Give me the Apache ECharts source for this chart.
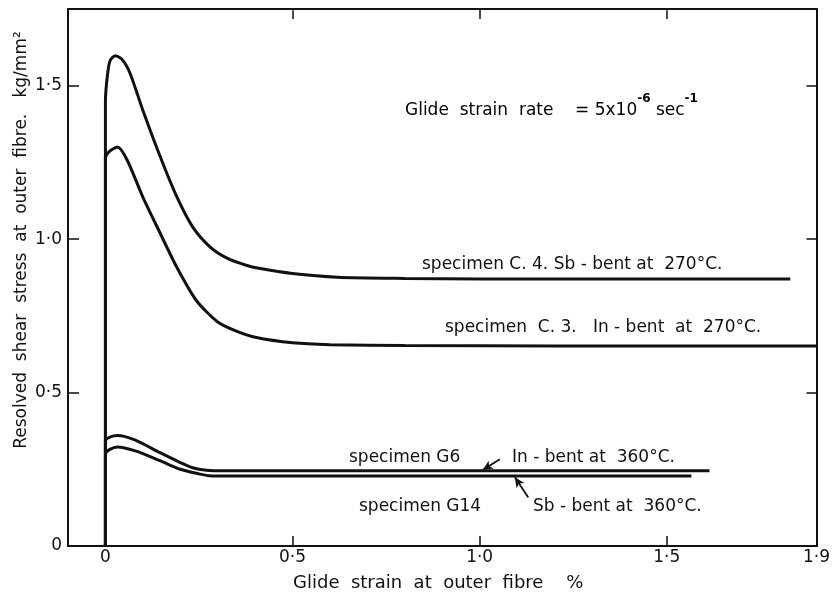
<!DOCTYPE html>
<html>
<head>
<meta charset="utf-8">
<script src="https://cdn.jsdelivr.net/npm/echarts@6/dist/echarts.min.js"></script>
<style>
html,body{margin:0;padding:0;background:#fff;}
#chart{width:833px;height:594px;}
</style>
</head>
<body>
<div id="chart"></div>
<script>
// Tick values and labels
const xTickValues = [0, 0.5, 1.0, 1.5];
const xLabelValues = [0, 0.5, 1.0, 1.5, 1.9];
const xLabelText = {'0':'0','0.5':'0·5','1':'1·0','1.5':'1·5','1.9':'1·9'};
const yTickValues = [0.5, 1.0, 1.5];
const yLabelValues = [0, 0.5, 1.0, 1.5];
const yLabelText = {'0':'0','0.5':'0·5','1':'1·0','1.5':'1·5'};

// Specimen C.4 Sb-bent at 270°C
const c4X = [0, 0, 0.005, 0.012, 0.026, 0.045, 0.066, 0.1, 0.146, 0.19, 0.233, 0.28, 0.325, 0.376, 0.41, 0.5, 0.62, 0.8, 1.0, 1.4, 1.83];
const c4Y = [0, 1.45, 1.53, 1.58, 1.598, 1.585, 1.54, 1.42, 1.27, 1.14, 1.04, 0.974, 0.938, 0.915, 0.905, 0.888, 0.876, 0.872, 0.87, 0.87, 0.87];
// Specimen C.3 In-bent at 270°C
const c3X = [0, 0, 0.01, 0.032, 0.058, 0.1, 0.146, 0.19, 0.243, 0.3, 0.35, 0.4, 0.5, 0.6, 0.8, 1.2, 1.9];
const c3Y = [0, 1.265, 1.285, 1.30, 1.258, 1.137, 1.02, 0.91, 0.80, 0.73, 0.70, 0.68, 0.662, 0.656, 0.653, 0.652, 0.652];
// Specimen G6 In-bent at 360°C
const g6X = [0, 0, 0.012, 0.032, 0.08, 0.146, 0.2, 0.233, 0.27, 0.32, 0.5, 1.0, 1.614];
const g6Y = [0, 0.343, 0.355, 0.36, 0.345, 0.304, 0.272, 0.255, 0.247, 0.245, 0.245, 0.245, 0.245];
// Specimen G14 Sb-bent at 360°C
const g14X = [0, 0, 0.012, 0.032, 0.08, 0.146, 0.2, 0.25, 0.278, 0.33, 0.5, 1.0, 1.566];
const g14Y = [0, 0.30, 0.315, 0.323, 0.31, 0.278, 0.25, 0.235, 0.229, 0.228, 0.228, 0.228, 0.228];

const FONT = 'DejaVu Sans';
const INK = '#111';
const zip = (xs, ys) => xs.map((x, i) => [x, ys[i]]);

const chart = echarts.init(document.getElementById('chart'), null, {renderer:'canvas'});

function lineSeries(name, xs, ys, extra) {
  return Object.assign({
    name, type:'line', data: zip(xs, ys), showSymbol:false, smooth:0.25,
    lineStyle:{color:INK, width:3}, xAxisIndex:0, yAxisIndex:0, silent:true, z:3
  }, extra || {});
}
function arrowLine(from, to) {
  return {
    silent:true, symbol:['none','arrow'], symbolSize:[7,10],
    lineStyle:{color:INK, width:1.8, type:'solid'}, label:{show:false},
    data:[[{coord:from},{coord:to}]]
  };
}
function note(x, y, text, size) {
  return {type:'text', x, y, style:{text, fill:INK, font:(size||17)+'px "DejaVu Sans"', verticalAlign:'middle'}};
}

const axisTxt = {color:INK, fontFamily:FONT, fontSize:17};

const option = {
  animation:false,
  backgroundColor:'#fff',
  grid:{left:68, right:10, top:9, bottom:48, containLabel:false},
  xAxis:[
    {type:'value', min:-0.1, max:1.9, position:'bottom',
     axisLine:{show:true, onZero:false, lineStyle:{color:INK, width:2}},
     axisTick:{show:true, inside:true, length:10, customValues:xTickValues, lineStyle:{color:INK, width:1.5}},
     axisLabel:Object.assign({show:true, customValues:xLabelValues, margin:3,
       formatter:v => xLabelText[String(+v.toFixed(2))] ?? ''}, axisTxt),
     splitLine:{show:false}},
    {type:'value', min:-0.1, max:1.9, position:'top',
     axisLine:{show:true, onZero:false, lineStyle:{color:INK, width:2}},
     axisTick:{show:true, inside:true, length:10, customValues:xTickValues.slice(1), lineStyle:{color:INK, width:1.5}},
     axisLabel:{show:false}, splitLine:{show:false}}
  ],
  yAxis:[
    {type:'value', min:0, max:1.75, position:'left',
     axisLine:{show:true, onZero:false, lineStyle:{color:INK, width:2}},
     axisTick:{show:true, inside:true, length:11, customValues:yTickValues, lineStyle:{color:INK, width:1.5}},
     axisLabel:Object.assign({show:true, customValues:yLabelValues, margin:6,
       formatter:v => yLabelText[String(+v.toFixed(2))] ?? ''}, axisTxt),
     splitLine:{show:false}},
    {type:'value', min:0, max:1.75, position:'right',
     axisLine:{show:true, onZero:false, lineStyle:{color:INK, width:2}},
     axisTick:{show:true, inside:true, length:10, customValues:yTickValues, lineStyle:{color:INK, width:1.5}},
     axisLabel:{show:false}, splitLine:{show:false}}
  ],
  series:[
    lineSeries('C.4', c4X, c4Y),
    lineSeries('C.3', c3X, c3Y),
    lineSeries('G6', g6X, g6Y, {markLine: arrowLine([1.054, 0.283], [1.008, 0.248])}),
    lineSeries('G14', g14X, g14Y, {markLine: arrowLine([1.13, 0.158], [1.094, 0.224])})
  ],
  graphic:[
    {type:'text', x:405, y:106, style:{
      text:'{m|Glide  strain  rate    = 5x10}{s|-6}{m| sec}{s|-1}',
      verticalAlign:'middle',
      rich:{
        m:{fontFamily:FONT, fontSize:17, color:INK, lineHeight:26, verticalAlign:'bottom'},
        s:{fontFamily:FONT, fontSize:12, fontWeight:'bold', color:INK, lineHeight:12, verticalAlign:'top'}
      }}},
    note(422, 265, 'specimen C. 4. Sb - bent at  270°C.'),
    note(445, 328, 'specimen  C. 3.   In - bent  at  270°C.'),
    note(349, 458, 'specimen G6'),
    note(512, 458, 'In - bent at  360°C.'),
    note(359, 507, 'specimen G14'),
    note(533, 507, 'Sb - bent at  360°C.'),
    note(293, 583, 'Glide  strain  at  outer  fibre    %', 18),
    {type:'text', x:22, y:240, rotation:Math.PI/2,
     style:{text:'Resolved  shear  stress  at  outer  fibre.   kg/mm²', fill:INK, font:'17px "DejaVu Sans"', align:'center', verticalAlign:'middle'}}
  ]
};
chart.setOption(option);
</script>
</body>
</html>
